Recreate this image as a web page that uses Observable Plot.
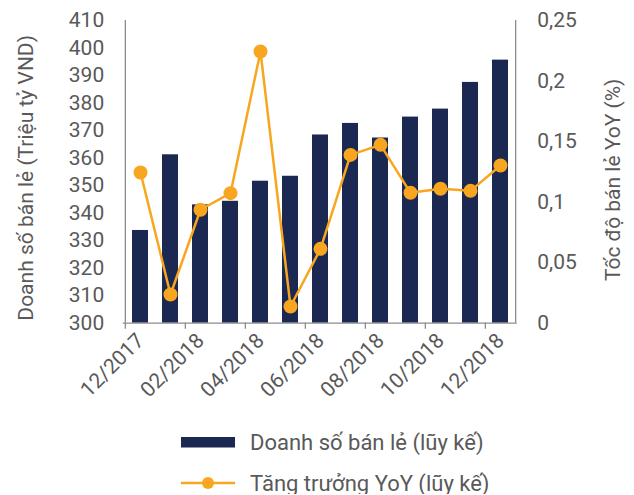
<!DOCTYPE html>
<html>
<head>
<meta charset="utf-8">
<script src="https://cdn.jsdelivr.net/npm/d3@7"></script>
<script src="https://cdn.jsdelivr.net/npm/@observablehq/plot@0.6"></script>
<style>
  body { margin: 0; background: #fff; font-family: Roboto, sans-serif; }
  #legend { padding-top: 11px; color: #595959; font-size: 22px; }
  .row { display: flex; align-items: center; height: 22px; padding-left: 181px; }
  .row + .row { margin-top: 19px; }
  .row svg { margin-right: 15px; }
</style>
</head>
<body>
<div id="chart"></div>
<div id="legend"></div>
<script>
const months = ["12/2017","01/2018","02/2018","03/2018","04/2018","05/2018","06/2018","07/2018","08/2018","09/2018","10/2018","11/2018","12/2018"];
const sales  = [333.7, 361.2, 343.0, 344.3, 351.6, 353.4, 368.4, 372.6, 367.3, 374.9, 377.8, 387.5, 395.6];
const growth = [0.1245, 0.0237, 0.0937, 0.1074, 0.2244, 0.0138, 0.0614, 0.139, 0.1473, 0.1077, 0.111, 0.1093, 0.1302];
const leftTicks  = [300, 310, 320, 330, 340, 350, 360, 370, 380, 390, 400, 410];
const rightTicks = [0, 0.05, 0.1, 0.15, 0.2, 0.25];
const xLabels = ["12/2017","02/2018","04/2018","06/2018","08/2018","10/2018","12/2018"];
const leftDomain = [300, 410];
const rightDomain = [0, 0.25];
const leftTitle = "Doanh số bán lẻ (Triệu tỷ VND)";
const rightTitle = "Tốc độ bán lẻ YoY (%)";
const seriesNames = ["Doanh số bán lẻ (lũy kế)", "Tăng trưởng YoY (lũy kế)"];

const navy = "#1b2852";
const orange = "#f8a61f";
const axisGray = "#8c8c8c";
const textGray = "#595959";

const toLeft = d3.scaleLinear().domain(rightDomain).range(leftDomain);
const data = months.map((m, i) => ({month: m, sales: sales[i], growth: growth[i], g: toLeft(growth[i])}));

const W = 634, H = 420, ML = 122.7, MR = 117.3, MT = 20, MB = 97.3;
const step = (W - ML - MR) / months.length;
const fmtRight = v => String(+(+v).toFixed(2)).replace(".", ",");

const chart = Plot.plot({
  width: W, height: H,
  marginLeft: ML, marginRight: MR, marginTop: MT, marginBottom: MB,
  style: {fontFamily: "Roboto, sans-serif", fontSize: "21px", color: textGray, background: "#fff"},
  x: {domain: months, paddingInner: 0.46, paddingOuter: 0.23, axis: null},
  y: {domain: leftDomain, axis: null},
  marks: [
    Plot.barY(data, {x: "month", y1: leftDomain[0], y2: "sales", fill: navy}),
    Plot.ruleY([leftDomain[0]], {stroke: axisGray, strokeWidth: 1.3}),
    Plot.ruleX([months[0]], {dx: -step / 2, stroke: axisGray, strokeWidth: 1.3}),
    Plot.ruleX([months[months.length - 1]], {dx: step / 2, stroke: axisGray, strokeWidth: 1.3}),
    Plot.axisX(xLabels, {tickSize: 6, tickFormat: () => "", label: null, dx: -step / 2, stroke: axisGray, strokeWidth: 1.3}),
    Plot.axisX(xLabels, {tickSize: 0, tickPadding: 14, tickRotate: -45, fill: textGray, fontSize: 21, label: null}),
    Plot.axisY(leftTicks, {anchor: "left", tickSize: 0, tickPadding: 19, fill: textGray, fontSize: 21, label: null}),
    Plot.axisY(rightTicks.map(toLeft), {anchor: "right", tickSize: 0, tickPadding: 20, fill: textGray, fontSize: 21, label: null,
      tickFormat: d => fmtRight(toLeft.invert(d))}),
    Plot.line(data, {x: "month", y: "g", stroke: orange, strokeWidth: 2.5}),
    Plot.dot(data, {x: "month", y: "g", r: 7, fill: orange, stroke: null}),
    Plot.text([leftTitle], {frameAnchor: "left", textAnchor: "middle", text: d => d, rotate: -90, dx: -97.4, dy: 6, fill: textGray, fontSize: 21}),
    Plot.text([rightTitle], {frameAnchor: "right", textAnchor: "middle", text: d => d, rotate: -90, dx: 95.8, dy: 8, fill: textGray, fontSize: 21})
  ]
});
document.getElementById("chart").appendChild(chart);

const legend = document.getElementById("legend");
legend.innerHTML = `
  <div class="row"><svg width="54" height="12"><rect x="0" y="1" width="54" height="10.5" fill="${navy}"/></svg><span>${seriesNames[0]}</span></div>
  <div class="row"><svg width="54" height="16"><line x1="0" x2="54" y1="8" y2="8" stroke="${orange}" stroke-width="2.5"/><circle cx="27" cy="8" r="6" fill="${orange}"/></svg><span>${seriesNames[1]}</span></div>
`;
</script>
</body>
</html>
